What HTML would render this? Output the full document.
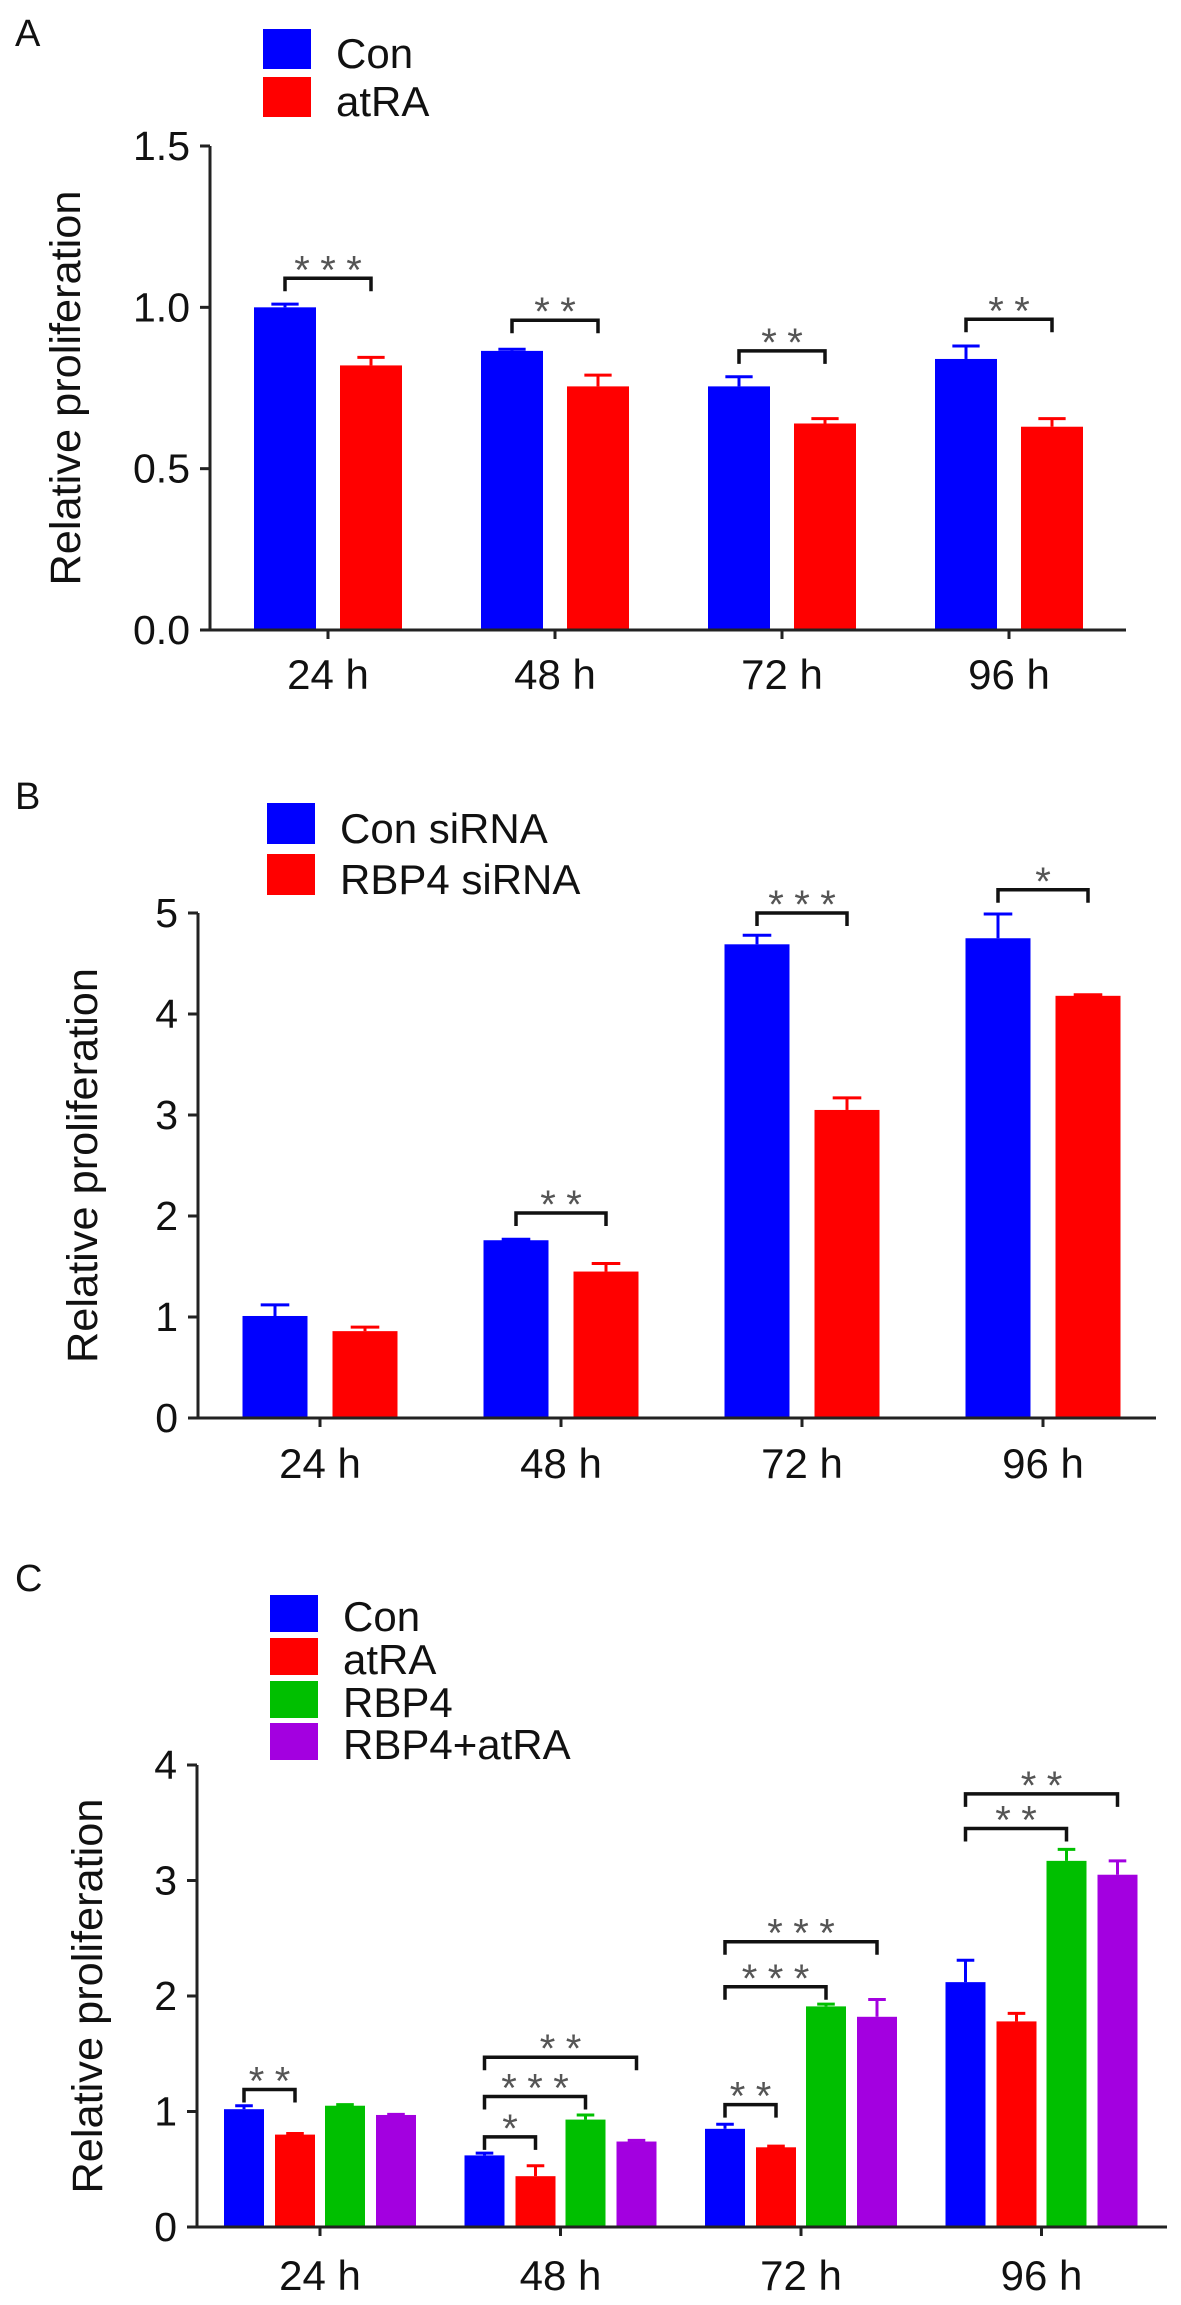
<!DOCTYPE html>
<html><head><meta charset="utf-8"><style>
html,body{margin:0;padding:0;background:#fff;}
svg{display:block;font-family:"Liberation Sans",Arial,sans-serif;}
</style></head><body>
<svg id="fig" width="1181" height="2305" viewBox="0 0 1181 2305"></svg>
<script>
// ---- Panel A data ----
const catsA = ["24 h","48 h","72 h","96 h"];
const conA = [1.00, 0.865, 0.755, 0.84];
const conErrA = [0.01, 0.005, 0.03, 0.04];
const atraA = [0.82, 0.755, 0.64, 0.63];
const atraErrA = [0.025, 0.035, 0.015, 0.025];
const ticksA = [0.0, 0.5, 1.0, 1.5];
const tickLabelsA = ["0.0","0.5","1.0","1.5"];
const sigA = [["***",0,0,1,1.09],["**",1,0,1,0.96],["**",2,0,1,0.865],["**",3,0,1,0.963]];
// ---- Panel B data ----
const catsB = ["24 h","48 h","72 h","96 h"];
const conB = [1.01, 1.76, 4.69, 4.75];
const conErrB = [0.11, 0.01, 0.09, 0.24];
const rbpB = [0.86, 1.45, 3.05, 4.18];
const rbpErrB = [0.04, 0.08, 0.12, 0.01];
const ticksB = [0,1,2,3,4,5];
const tickLabelsB = ["0","1","2","3","4","5"];
const sigB = [["**",1,0,1,2.03],["***",2,0,1,5.0],["*",3,0,1,5.23]];
// ---- Panel C data ----
const catsC = ["24 h","48 h","72 h","96 h"];
const conC = [1.02, 0.62, 0.85, 2.12];
const conErrC = [0.03, 0.02, 0.04, 0.19];
const atraC = [0.80, 0.44, 0.69, 1.78];
const atraErrC = [0.01, 0.09, 0.01, 0.07];
const rbp4C = [1.05, 0.93, 1.91, 3.17];
const rbp4ErrC = [0.01, 0.04, 0.02, 0.10];
const comboC = [0.97, 0.74, 1.82, 3.05];
const comboErrC = [0.005, 0.01, 0.15, 0.12];
const ticksC = [0,1,2,3,4];
const tickLabelsC = ["0","1","2","3","4"];
const sigC = [["**",0,0,1,1.19],["*",1,0,1,0.78],["***",1,0,2,1.13],["**",1,0,3,1.47],
              ["**",2,0,1,1.06],["***",2,0,2,2.08],["***",2,0,3,2.47],["**",3,0,2,3.45],["**",3,0,3,3.75]];

const NS = "http://www.w3.org/2000/svg";
const svg = document.getElementById('fig');
function mk(tag, attrs, parent){const e=document.createElementNS(NS,tag);for(const k in attrs)e.setAttribute(k,attrs[k]);(parent||svg).appendChild(e);return e;}

function drawPanel(p){
  const g = mk('g',{});
  
  
  const y = v => p.y0 - (v - 0) / p.vmax * (p.y0 - p.yTop);
  const x = i => p.xc[0] + i * p.dx;
  const L = mk('text',{x:15,y:p.letterY,'font-size':38,fill:'#111'},g); L.textContent=p.letter;
  
  
  p.series.forEach((s,k)=>{
    const r = mk('rect',{x:p.legX,y:p.legY[k],width:48,height:p.legH,fill:s.color},g);
    
    
    const t = mk('text',{x:p.legX+73,y:p.legY[k]+p.legH-1,'font-size':42,fill:'#111'},g);
    t.textContent = s.label;
    
    
  });
  p.series.forEach((s,k)=>{
    s.vals.forEach((v,i)=>{
      const cx = x(i) + p.offsets[k];
      const top = y(v);
      const et = y(v + s.err[i]);
      const eb = mk('line',{x1:cx,y1:top,x2:cx,y2:et,stroke:s.color,'stroke-width':3},g);
      
      
      const cap = mk('line',{x1:cx-p.bw*0.22,y1:et,x2:cx+p.bw*0.22,y2:et,stroke:s.color,'stroke-width':3},g);
      
      
      const b = mk('rect',{x:cx-p.bw/2,y:top,width:p.bw,height:p.y0-top,fill:s.color},g);
      
      
    });
  });
  const ya = mk('line',{x1:p.axX,y1:p.yTop,x2:p.axX,y2:p.y0+1.5,stroke:'#222','stroke-width':3},g);
  
  
  const xa = mk('line',{x1:p.axX,y1:p.y0,x2:p.axR,y2:p.y0,stroke:'#222','stroke-width':3},g);
  
  
  p.ticks.forEach((v,i)=>{
    const ty = y(v);
    mk('line',{x1:p.axX-10,y1:ty,x2:p.axX,y2:ty,stroke:'#222','stroke-width':3},g);
    const t = mk('text',{x:p.axX-20,y:ty+14,'font-size':41,'text-anchor':'end',fill:'#111'},g);
    t.textContent = p.tickLabels[i];
    
    
  });
  p.cats.forEach((c,i)=>{
    mk('line',{x1:x(i),y1:p.y0,x2:x(i),y2:p.y0+9,stroke:'#222','stroke-width':3},g);
    const t = mk('text',{x:x(i),y:p.xLabY,'font-size':42,'text-anchor':'middle',fill:'#111'},g);
    t.textContent = c;
    
    
  });
  const yt = mk('text',{x:0,y:0,'font-size':43,'text-anchor':'middle',fill:'#111',
    textLength:395,lengthAdjust:'spacingAndGlyphs',
    transform:`translate(${p.titleX},${(p.y0+p.yTop)/2}) rotate(-90)`},g);
  yt.textContent = 'Relative proliferation';
  
  
  p.sig.forEach(sg=>{
    const [stars,i,a,b,v]=sg;
    const x1 = x(i)+p.offsets[a], x2 = x(i)+p.offsets[b], by = y(v);
    const br = mk('path',{d:`M${x1},${by+13} V${by} H${x2} V${by+13}`,fill:'none',stroke:'#111','stroke-width':3.5},g);
    
    
    const cnt = stars.length, pitch = 26, mid=(x1+x2)/2;
    for(let s=0;s<cnt;s++){
      const st = mk('text',{x:mid+(s-(cnt-1)/2)*pitch,y:by+5,'font-size':40,'text-anchor':'middle',fill:'#555'},g);
      st.textContent='*';
      
      
    }
  });
}

drawPanel({name:'panel-a',letter:'A',letterY:46,legX:263,legY:[29,77],legH:40,
  series:[{label:'Con',color:'#0000ff',vals:conA,err:conErrA},{label:'atRA',color:'#ff0000',vals:atraA,err:atraErrA}],
  cats:catsA,ticks:ticksA,tickLabels:tickLabelsA,sig:sigA,
  y0:630,yTop:146,vmax:1.5,axX:210,axR:1126,xc:[328],dx:227,offsets:[-43,43],bw:62,xLabY:689,titleX:80});

drawPanel({name:'panel-b',letter:'B',letterY:809,legX:267,legY:[803,854],legH:41,
  series:[{label:'Con siRNA',color:'#0000ff',vals:conB,err:conErrB},{label:'RBP4 siRNA',color:'#ff0000',vals:rbpB,err:rbpErrB}],
  cats:catsB,ticks:ticksB,tickLabels:tickLabelsB,sig:sigB,
  y0:1418,yTop:913,vmax:5,axX:198,axR:1156,xc:[320],dx:241,offsets:[-45,45],bw:65,xLabY:1478,titleX:97});

drawPanel({name:'panel-c',letter:'C',letterY:1591,legX:270,legY:[1595,1638,1681,1723],legH:37,
  series:[{label:'Con',color:'#0000ff',vals:conC,err:conErrC},{label:'atRA',color:'#ff0000',vals:atraC,err:atraErrC},
          {label:'RBP4',color:'#00bf00',vals:rbp4C,err:rbp4ErrC},{label:'RBP4+atRA',color:'#a300e0',vals:comboC,err:comboErrC}],
  cats:catsC,ticks:ticksC,tickLabels:tickLabelsC,sig:sigC,
  y0:2227,yTop:1765,vmax:4,axX:197,axR:1167,xc:[320],dx:240.5,offsets:[-76,-25,25,76],bw:40,xLabY:2290,titleX:102});
</script>
</body></html>
